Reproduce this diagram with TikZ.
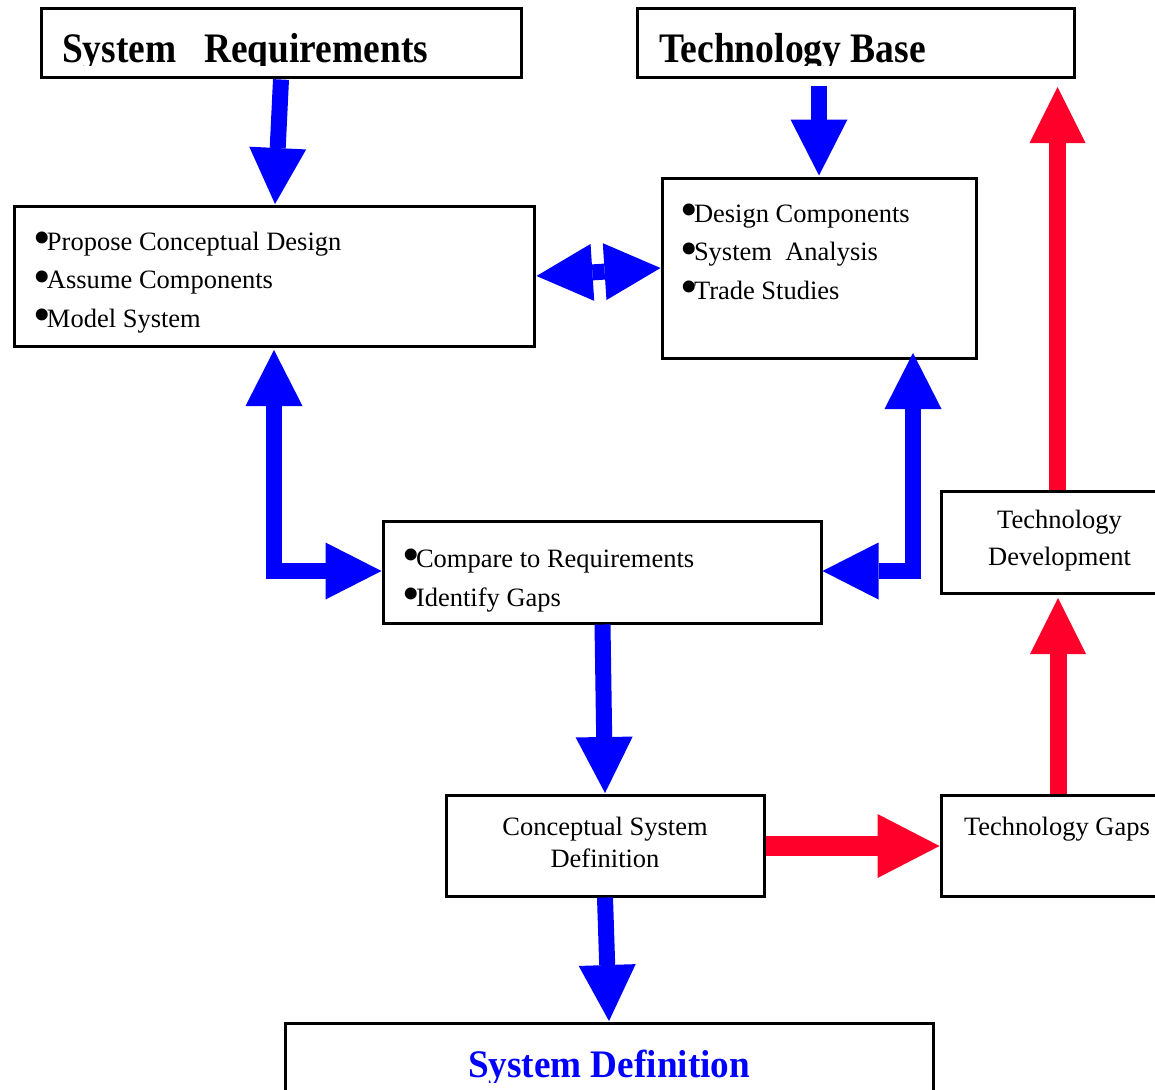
\documentclass[tikz,border=0pt]{standalone}
\usepackage{fontspec}
\setmainfont{Liberation Serif}
\usepackage{graphicx}
\usetikzlibrary{arrows.meta}

\definecolor{flowblue}{RGB}{0,0,255}
\definecolor{gapred}{RGB}{255,0,42}

% fonts: body text, list bullet, bold titles
\newcommand\bodyfont{\fontsize{26.5}{38.5}\selectfont}
\newcommand\bul{\makebox[13pt][l]{\hspace{-0.5pt}\raisebox{-4.5pt}{\fontsize{50}{50}\selectfont •}}}
\newcommand\titlefont{\fontsize{42}{42}\selectfont\bfseries}

\begin{document}
\begin{tikzpicture}[x=1pt,y=-1pt,
  box/.style={draw, line width=3pt, rectangle, inner sep=0pt, outer sep=0pt, fill=white},
  txt/.style={inner sep=0pt, outer sep=0pt},
  barrow/.style={draw=flowblue, line width=16pt,
    -{Triangle[length=56pt,width=57pt,line width=0pt]}},
  bdarrow/.style={draw=flowblue, line width=16pt,
    {Triangle[length=56pt,width=57pt,line width=0pt]}-{Triangle[length=56pt,width=57pt,line width=0pt]}},
  rarrow/.style={draw=gapred, line width=17pt,
    -{Triangle[length=56pt,width=56pt,line width=0pt]}},
  rharrow/.style={draw=gapred, line width=20pt,
    -{Triangle[length=62pt,width=64pt,line width=0pt]}},
]
\useasboundingbox (0,0) rectangle (1155,1089);

% ---- boxes ----
\node[box, minimum width=480pt, minimum height=69pt]  (req)     at (281,43.5)   {};
\node[box, minimum width=437pt, minimum height=69pt]  (tb)      at (855.5,43.5) {};
\node[box, minimum width=520pt, minimum height=140pt] (prop)    at (274,276)    {};
\node[box, minimum width=314pt, minimum height=180pt] (design)  at (819,268)    {};
\node[box, minimum width=438pt, minimum height=102pt] (compare) at (602,572)    {};
\node[box, minimum width=318pt, minimum height=101pt] (csd)     at (605,845.5)  {};
\node[box, minimum width=239pt, minimum height=101pt] (gaps)    at (1060.5,845.5) {};
\node[box, minimum width=239pt, minimum height=102pt] (dev)     at (1060.5,542) {};
\node[box, minimum width=648pt, minimum height=97pt]  (sysdef)  at (609,1071.5) {};

% ---- titles (cut off at the lower part of their boxes) ----
\begin{scope}
  \clip (req.north west) rectangle ([shift={(0,-12)}]req.south east);
  \node[txt, anchor=base west] (reqT) at ([shift={(21,54)}]req.north west)
    {\titlefont\resizebox{366pt}{\height}{System\ \ \ Requirements}};
\end{scope}
\begin{scope}
  \clip (tb.north west) rectangle ([shift={(0,-12)}]tb.south east);
  \node[txt, anchor=base west] (tbT) at ([shift={(22,54)}]tb.north west)
    {\titlefont\resizebox{267pt}{\height}{Technology Base}};
\end{scope}
\begin{scope}
  \clip (sysdef.north west) rectangle ([shift={(0,59)}]sysdef.north east);
  \node[txt, anchor=base west, text=flowblue] (sysdefT) at ([shift={(183,54)}]sysdef.north west)
    {\fontsize{39}{39}\selectfont\bfseries\resizebox{282pt}{\height}{System Definition}};
\end{scope}

% ---- box texts ----
\node[txt, anchor=base west] (propT) at ([shift={(20,44)}]prop.north west)
  {\parbox[t]{480pt}{\bodyfont
    \bul Propose Conceptual Design\\
    \bul Assume Components\\
    \bul Model System}};
\node[txt, anchor=base west] (designT) at ([shift={(19,44)}]design.north west)
  {\parbox[t]{290pt}{\bodyfont
    \bul Design Components\\
    \bul System\ \ Analysis\\
    \bul Trade Studies}};
\node[txt, anchor=base west] (compareT) at ([shift={(20,46)}]compare.north west)
  {\parbox[t]{400pt}{\fontsize{26.5}{39}\selectfont
    \bul Compare to Requirements\\
    \bul Identify Gaps}};
\node[txt, anchor=base] (csdT) at ([shift={(0,40)}]csd.north)
  {\parbox[t]{300pt}{\centering\fontsize{26.5}{32}\selectfont
    Conceptual System\\Definition}};
\node[txt, anchor=base] (devT) at ([shift={(-1,37)}]dev.north)
  {\parbox[t]{220pt}{\centering\fontsize{26.5}{37}\selectfont
    Technology\\Development}};
\node[txt, anchor=base west] (gapsT) at ([shift={(23,40)}]gaps.north west)
  {\bodyfont Technology Gaps};

% ---- blue flow arrows ----
\draw[barrow] ([shift={(0,1.5)}]req.south) -- ([shift={(1,-2)}]prop.north);
\draw[barrow] ([shift={(-36.5,8)}]tb.south) -- ([shift={(0,-2.5)}]design.north);
\draw[bdarrow] ([shift={(2.5,0)}]prop.east) -- ([shift={(-1.5,0)}]design.west);
\draw[bdarrow] ([shift={(0,4)}]prop.south) |- ([shift={(-1.5,-1)}]compare.west);
\draw[bdarrow] ([shift={(94,-5)}]design.south) |- ([shift={(1.5,-1)}]compare.east);
\draw[barrow] ([shift={(0.5,1.5)}]compare.south) -- ([shift={(0,-2)}]csd.north);
\draw[barrow] ([shift={(0,1.5)}]csd.south) -- ([shift={(0,-2)}]sysdef.north);

% ---- red technology arrows ----
\draw[rharrow] ([shift={(1.5,0.5)}]csd.east) -- ([shift={(-1.5,0.5)}]gaps.west);
\draw[rarrow] ([shift={(-2.5,-1.5)}]gaps.north) -- ([shift={(-2.5,5)}]dev.south);
\draw[rarrow] ([shift={(-3,-1.5)}]dev.north) -- ([shift={(-16.5,9)}]tb.south east);
\end{tikzpicture}
\end{document}
